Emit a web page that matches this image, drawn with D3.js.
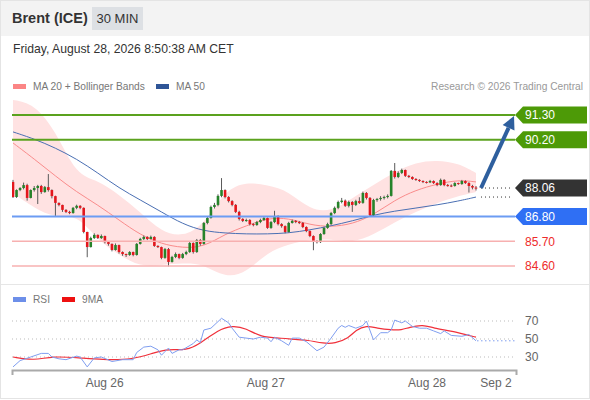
<!DOCTYPE html>
<html><head><meta charset="utf-8">
<script src="https://cdn.jsdelivr.net/npm/d3@7/dist/d3.min.js"></script>
<style>body{margin:0;background:#fff;} svg{display:block;font-family:"Liberation Sans",Arial,sans-serif;}</style>
</head><body><svg id="c" width="590" height="400"></svg>
<script>
// ---------- DATA ----------
const firstOpen = 88.33;
const closes = [87.66,87.97,88.06,88.19,87.62,87.97,88.06,88.15,87.88,88.10,
87.97,87.70,87.40,87.31,87.09,87.00,86.95,87.18,87.27,87.18,
86.11,85.44,85.84,85.98,85.84,85.93,85.66,85.58,85.31,85.53,
85.22,85.13,85.09,85.22,85.09,85.58,85.80,85.89,85.80,85.89,
85.49,85.44,84.96,85.35,84.78,85.00,85.13,84.96,85.13,85.22,
85.62,85.22,85.75,85.58,86.51,86.73,87.22,87.31,87.71,87.97,
87.66,87.48,87.31,87.00,86.69,86.60,86.64,86.46,86.42,86.55,
86.64,86.73,86.29,86.55,86.82,86.46,86.37,86.11,86.51,86.60,
86.55,86.51,86.33,86.15,85.93,85.71,85.66,86.02,86.29,86.46,
86.95,87.18,87.44,87.50,87.27,87.44,87.31,87.48,87.40,87.84,
87.62,86.86,87.53,87.57,87.62,87.66,87.71,88.82,88.55,88.73,
88.86,88.60,88.55,88.46,88.42,88.37,88.33,88.31,88.37,88.28,
88.19,88.42,88.19,88.17,88.15,88.28,88.24,88.37,88.28,88.15,
88.08,88.06];
const highs = [88.42,88.00,88.10,88.30,88.25,88.00,88.15,88.20,88.20,88.15,
88.68,88.00,87.72,87.42,87.32,87.12,87.05,87.22,87.32,87.30,
87.20,86.12,85.90,86.05,86.00,86.00,85.95,85.68,85.60,85.60,
85.55,85.25,85.15,85.26,85.24,85.62,85.85,85.95,85.92,85.95,
85.92,85.52,85.46,85.40,85.40,85.05,85.20,85.15,85.18,85.28,
85.68,85.65,85.80,85.80,86.55,86.80,87.28,87.40,87.78,88.50,
88.00,87.70,87.52,87.35,87.05,86.72,86.70,86.68,86.50,86.60,
86.70,86.80,86.75,86.60,87.05,86.85,86.50,86.40,86.56,86.66,
86.64,86.60,86.55,86.36,86.18,85.96,85.75,86.06,86.34,86.52,
87.00,87.24,87.50,87.62,87.55,87.50,87.48,87.54,87.65,87.90,
87.88,87.66,87.58,87.62,87.70,87.72,87.78,88.86,89.17,88.80,
88.92,88.88,88.64,88.58,88.50,88.45,88.40,88.36,88.42,88.40,
88.32,88.48,88.45,88.24,88.22,88.32,88.30,88.42,88.40,88.32,
88.20,88.15];
const lows = [87.62,87.62,87.92,88.00,87.50,87.60,87.90,87.35,87.80,87.85,
87.90,87.60,86.82,87.25,87.00,86.95,86.90,86.92,87.12,87.12,
86.05,84.99,85.42,85.80,85.80,85.80,85.60,85.50,85.25,85.28,
85.15,85.05,85.00,85.05,85.03,85.06,85.55,85.75,85.75,85.78,
85.45,85.40,84.90,84.92,84.58,84.75,84.95,84.90,84.92,85.08,
85.18,85.15,85.18,85.50,85.55,86.45,86.70,87.15,87.25,87.65,
87.60,87.42,87.25,86.95,86.62,86.55,86.56,86.40,86.36,86.38,
86.50,86.60,86.25,86.25,86.50,86.40,86.30,86.05,86.08,86.48,
86.50,86.46,86.28,86.10,85.88,85.30,85.60,85.62,85.98,86.25,
86.42,86.90,87.12,87.38,87.22,87.20,87.00,87.26,87.35,87.36,
87.55,86.80,86.82,87.45,87.50,87.55,87.60,87.68,88.48,88.50,
88.68,88.55,88.50,88.42,88.38,88.33,88.28,88.26,88.28,88.24,
88.14,88.16,88.14,88.12,88.10,88.12,88.20,88.20,88.24,87.86,
88.00,87.95];

const maIdx     = [0,6,12,18,24,30,36,42,48,54,60,66,72,78,84,90,96,102,108,114,120,126,131];
const ma20      = [90.06,89.35,88.59,87.88,87.31,86.64,85.98,85.58,85.40,85.44,86.02,86.38,86.73,86.73,86.42,86.33,86.46,86.86,87.53,87.97,88.24,88.42,88.33];
const bandUpper = [91.97,91.79,90.63,88.59,88.42,87.75,87.00,86.11,85.89,86.42,87.97,88.33,88.19,87.93,87.09,87.00,87.62,88.19,88.77,89.21,89.30,89.17,88.73];
const bandLower = [87.84,87.17,86.73,86.91,85.75,85.09,84.56,84.64,84.73,84.69,84.07,84.29,85.22,85.58,85.75,85.80,85.62,85.98,86.55,87.00,87.40,87.71,87.88];
const ma50      = [90.55,90.24,89.84,89.35,88.73,88.06,87.53,87.00,86.46,86.15,86.06,86.02,86.02,86.06,86.20,86.38,86.60,86.86,87.04,87.17,87.31,87.48,87.66];

const rsiIdx = [0,2,5,8,10,11,13,15,18,19,21,23,25,28,31,34,35,37,39,41,42,44,45,47,48,51,52,53,54,56,59,61,62,64,68,70,72,73,74,76,78,79,81,83,86,88,90,92,93,94,95,97,99,100,102,104,106,107,108,110,111,113,115,117,119,121,122,124,127,129,131];
const rsiVal = [19,26,30,34,34,30,28,27,31,30,19,29,30,25,27,27,35,41,42,38,32,40,34,38,38,45,49,46,60,62,73,68,62,52,50,52,51,47,52,48,43,51,51,47,37,41,51,62,65,63,65,62,65,70,49,57,57,60,71,68,70,64,62,62,59,56,59,54,53,55,48];
const rsiMaIdx = [0,6,11,19,25,34,40,44,49,53,58,62,66,70,76,81,83,88,91,95,97,100,103,107,110,112,116,119,124,128,131];
const rsiMaVal = [30,26,31,29,27,27,35,39,37,45,60,65,62,52,51,49,49,45,45,51,60,65,62,60,60,63,66,62,59,55,52];

const resistances = [91.30, 90.20];
const lastPrice = 88.06;
const pivot = 86.80;
const supports = [85.70, 84.60];
const rsiLevels = [70, 50, 30];
const dayTickIdx = [25.8, 71.4, 117, 136.5];
const dayLabels = ["Aug 26", "Aug 27", "Aug 28", "Sep 2"];

// ---------- DRAW ----------
const svg = d3.select("#c");
const W = 590, H = 400;
svg.append("rect").attr("x",0.5).attr("y",0.5).attr("width",W-1).attr("height",H-2).attr("fill","#fff").attr("stroke","#e4e4e4");
svg.append("rect").attr("x",1).attr("y",1).attr("width",W-2).attr("height",35).attr("fill","#f3f3f3");
svg.append("text").attr("x",12).attr("y",23).attr("font-size",14.5).attr("font-weight","bold").attr("fill","#333").text("Brent (ICE)");
svg.append("rect").attr("x",92).attr("y",7).attr("width",51).attr("height",23).attr("fill","#dde0e4");
svg.append("text").attr("x",117.5).attr("y",23).attr("text-anchor","middle").attr("font-size",13).attr("fill","#333").text("30 MIN");
svg.append("text").attr("x",13).attr("y",53).attr("font-size",12.2).attr("fill","#333").text("Friday, August 28, 2026 8:50:38 AM CET");

// legend
svg.append("rect").attr("x",13).attr("y",84).attr("width",13).attr("height",5).attr("fill","#fb8585");
svg.append("text").attr("x",33).attr("y",90).attr("font-size",10.2).attr("fill","#777").text("MA 20 + Bollinger Bands");
svg.append("rect").attr("x",156).attr("y",84).attr("width",13).attr("height",5).attr("fill","#2f5597");
svg.append("text").attr("x",176).attr("y",90).attr("font-size",10.2).attr("fill","#777").text("MA 50");
svg.append("text").attr("x",583).attr("y",90).attr("text-anchor","end").attr("font-size",10.2).attr("fill","#999").text("Research \u00a9 2026 Trading Central");

// separator
svg.append("line").attr("x1",1).attr("x2",W-1).attr("y1",284.5).attr("y2",284.5).attr("stroke","#e6e6e6");

const n = closes.length;
const x = d3.scaleLinear().domain([0, n-1]).range([13, 476]);
const y = d3.scaleLinear().domain([84.6, 91.3]).range([266, 115]);
const yr = d3.scaleLinear().domain([30, 70]).range([357, 321]);
const xL = 12, xR = 515;

svg.append("clipPath").attr("id","pc").append("rect").attr("x",xL).attr("y",92).attr("width",xR-xL).attr("height",192);
const plot = svg.append("g").attr("clip-path","url(#pc)");

// Bollinger band
plot.append("path")
  .datum(maIdx.map((d,i)=>i))
  .attr("d", d3.area().x(i=>x(maIdx[i])).y0(i=>y(bandLower[i])).y1(i=>y(bandUpper[i])).curve(d3.curveBasis))
  .attr("fill","#ffe2e2");

// level lines
const lvl = (v, color, w) => svg.append("line").attr("x1",xL).attr("x2",xR).attr("y1",y(v)).attr("y2",y(v)).attr("stroke",color).attr("stroke-width",w);
resistances.forEach(v=>lvl(v,"#5ba21e",2));
lvl(pivot,"#6c9cf3",2);
supports.forEach(v=>lvl(v,"#f7b0b0",1.6));

// MA lines
const lineOf = arr => d3.line().x(i=>x(maIdx[i])).y(i=>y(arr[i])).curve(d3.curveBasis)(maIdx.map((d,i)=>i));
plot.append("path").attr("d",lineOf(ma20)).attr("fill","none").attr("stroke","#fa8c8c").attr("stroke-width",1);
plot.append("path").attr("d",lineOf(ma50)).attr("fill","none").attr("stroke","#4a6fb3").attr("stroke-width",1);

// candles
const candles = closes.map((c,i)=>({i, o: i===0?firstOpen:closes[i-1], c, h: highs[i], l: lows[i]}));
const cg = plot.append("g");
cg.selectAll("line.w").data(candles).join("line")
  .attr("x1",d=>x(d.i)).attr("x2",d=>x(d.i)).attr("y1",d=>y(d.h)).attr("y2",d=>y(d.l))
  .attr("stroke","#5a5a5a").attr("stroke-width",1);
cg.selectAll("rect.b").data(candles).join("rect")
  .attr("x",d=>x(d.i)-1.3).attr("width",2.6)
  .attr("y",d=>y(Math.max(d.o,d.c)))
  .attr("height",d=>Math.max(1,Math.abs(y(d.o)-y(d.c))))
  .attr("fill",d=>d.c>=d.o?"#26832a":"#e3161c");

// dotted guides
const xLast = x(n-1);
svg.append("line").attr("x1",xLast+5).attr("x2",xR-2).attr("y1",y(lastPrice)).attr("y2",y(lastPrice))
  .attr("stroke","#333").attr("stroke-dasharray","1,3");
svg.append("line").attr("x1",xLast+5).attr("x2",xR-2).attr("y1",y(ma50[ma50.length-1])).attr("y2",y(ma50[ma50.length-1]))
  .attr("stroke","#333").attr("stroke-dasharray","1,3");

// arrow
const ax0 = xLast+5, ay0 = y(lastPrice), ax1 = 514, ay1 = y(resistances[0])+1;
const ang = Math.atan2(ay1-ay0, ax1-ax0);
const headL = 13, headW = 6.5;
const bx = ax1 - headL*Math.cos(ang), by = ay1 - headL*Math.sin(ang);
svg.append("line").attr("x1",ax0).attr("y1",ay0).attr("x2",bx).attr("y2",by).attr("stroke","#2e5f9e").attr("stroke-width",4);
svg.append("path").attr("d",`M${ax1},${ay1} L${bx+headW*Math.sin(ang)},${by-headW*Math.cos(ang)} L${bx-headW*Math.sin(ang)},${by+headW*Math.cos(ang)} Z`).attr("fill","#2e5f9e");

// tags
const tag = (v, color) => {
  const yy = y(v);
  svg.append("path").attr("d",`M${xR},${yy} L${xR+8},${yy-8.5} L587,${yy-8.5} L587,${yy+8.5} L${xR+8},${yy+8.5} Z`).attr("fill",color);
  svg.append("text").attr("x",525).attr("y",yy+4.3).attr("font-size",12).attr("fill","#fff").text(v.toFixed(2));
};
resistances.forEach(v=>tag(v,"#4d9a07"));
tag(lastPrice,"#333333");
tag(pivot,"#2f6ff4");
supports.forEach(v=>svg.append("text").attr("x",525).attr("y",y(v)+4.3).attr("font-size",12).attr("fill","#ee2b2b").text(v.toFixed(2)));

// ---------- RSI panel ----------
svg.append("rect").attr("x",13).attr("y",297).attr("width",13).attr("height",5).attr("fill","#6d8fe9");
svg.append("text").attr("x",33).attr("y",303).attr("font-size",10.2).attr("fill","#777").text("RSI");
svg.append("rect").attr("x",62).attr("y",297).attr("width",13).attr("height",5).attr("fill","#ee1111");
svg.append("text").attr("x",82).attr("y",303).attr("font-size",10.2).attr("fill","#777").text("9MA");

rsiLevels.forEach(v=>{
  svg.append("line").attr("x1",xL).attr("x2",xR).attr("y1",yr(v)).attr("y2",yr(v)).attr("stroke","#bbb").attr("stroke-dasharray","1,3");
  svg.append("text").attr("x",525).attr("y",yr(v)+4.3).attr("font-size",12).attr("fill","#666").text(v);
});
svg.append("path").attr("d",d3.line().x((d,i)=>x(rsiMaIdx[i])).y(d=>yr(d)).curve(d3.curveBasis)(rsiMaVal))
  .attr("fill","none").attr("stroke","#f0303a").attr("stroke-width",1.2);
svg.append("path").attr("d",d3.line().x((d,i)=>x(rsiIdx[i])).y(d=>yr(d))(rsiVal))
  .attr("fill","none").attr("stroke","#7f9ef0").attr("stroke-width",1);
svg.append("line").attr("x1",x(rsiIdx[rsiIdx.length-1])+1).attr("x2",xR).attr("y1",yr(rsiVal[rsiVal.length-1])).attr("y2",yr(rsiVal[rsiVal.length-1]))
  .attr("stroke","#7f9ef0").attr("stroke-dasharray","1.5,2.5");

// x axis
const xa = x.copy().domain([x.invert(12), x.invert(516)]).range([12,516]);
const axisG = svg.append("g").attr("transform","translate(0,370)")
  .call(d3.axisBottom(xa).tickValues(dayTickIdx).tickFormat((d,i)=>dayLabels[i]).tickSizeInner(0).tickSizeOuter(5).tickPadding(8));
axisG.select(".domain").attr("stroke","#aaa").attr("stroke-width",2);
axisG.selectAll("text").attr("font-size",12).attr("fill","#666").attr("font-family","Liberation Sans, Arial, sans-serif");
</script></body></html>
